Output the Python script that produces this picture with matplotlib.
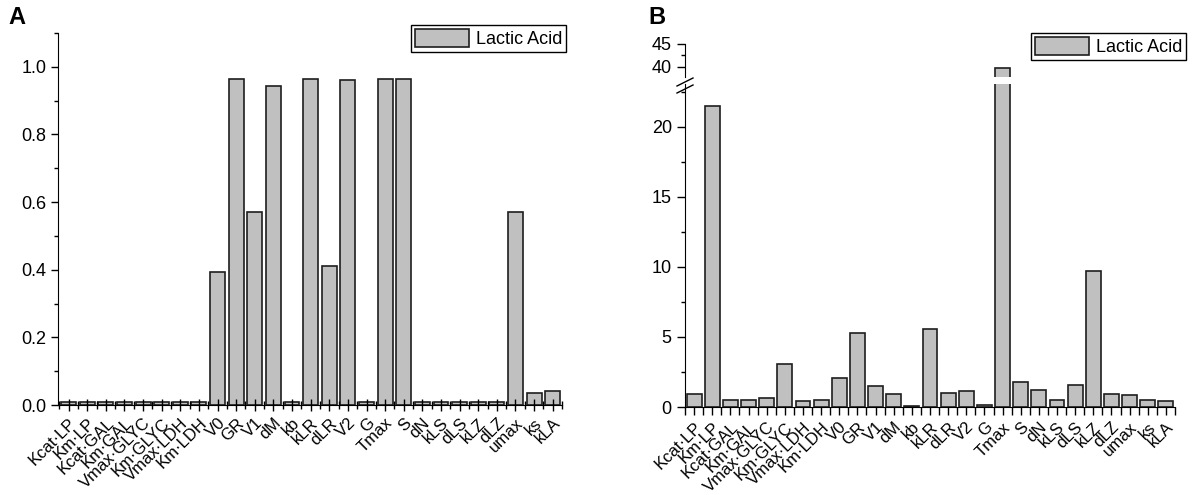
import numpy as np
import matplotlib
matplotlib.use("Agg")
import matplotlib.pyplot as plt
from matplotlib.lines import Line2D
from matplotlib.ticker import MultipleLocator

plt.rcParams['font.family'] = ['Liberation Sans', 'DejaVu Sans']

params = ["Kcat·LP", "Km·LP", "Kcat·GAL", "Km·GAL", "Vmax·GLYC", "Km·GLYC",
          "Vmax·LDH", "Km·LDH", "V0", "GR", "V1", "dM", "kb", "kLR", "dLR",
          "V2", "G", "Tmax", "S", "dN", "kLS", "dLS", "kLZ", "dLZ", "umax",
          "ks", "kLA"]

# panel A - sensitivity index (Lactic Acid)
vals_a = [0.008, 0.008, 0.008, 0.008, 0.008, 0.008, 0.008, 0.008, 0.392,
          0.965, 0.572, 0.943, 0.008, 0.965, 0.41, 0.96, 0.008, 0.965,
          0.965, 0.008, 0.008, 0.008, 0.008, 0.008, 0.57, 0.036, 0.04]

# panel B
vals_b = [0.95, 21.5, 0.5, 0.5, 0.65, 3.1, 0.45, 0.5, 2.05, 5.25, 1.5, 0.95,
          0.1, 5.55, 1.0, 1.15, 0.15, 39.8, 1.8, 1.2, 0.5, 1.6, 9.7, 0.95,
          0.85, 0.5, 0.45]

bar_color = "#c0c0c0"
edge_color = "#1e1e1e"
x = np.arange(1, len(params) + 1)

W, H = 1200, 495
fig = plt.figure(figsize=(W / 100, H / 100), dpi=100)


def frac(px_left, px_top, px_right, px_bottom):
    return [px_left / W, 1 - px_bottom / H, (px_right - px_left) / W, (px_bottom - px_top) / H]


# ---------------- panel A ----------------
axA = fig.add_axes(frac(58, 33, 562, 405))
axA.bar(x, vals_a, width=0.8, color=bar_color, edgecolor=edge_color, linewidth=1.2,
        label="Lactic Acid")
axA.set_xlim(0.43, 27.5)
axA.set_ylim(0, 1.1)
axA.spines[['top', 'right']].set_visible(False)
axA.yaxis.set_minor_locator(MultipleLocator(0.1))
axA.set_yticks(np.arange(0, 1.01, 0.2))
axA.set_yticklabels([f"{v:.1f}" for v in np.arange(0, 1.01, 0.2)], fontsize=13)
axA.set_xticks(x)
axA.set_xticks(np.arange(0.5, 27.6, 1), minor=True)
axA.set_xticklabels(params, rotation=45, ha='right', rotation_mode='anchor', fontsize=12)
axA.tick_params(axis='x', which='major', direction='inout', length=9, width=1, pad=3)
axA.tick_params(axis='x', which='minor', direction='inout', length=6, width=1)
axA.tick_params(axis='y', which='major', direction='out', length=5, width=1)
axA.tick_params(axis='y', which='minor', direction='out', length=3, width=1)
axA.legend(loc='upper right', bbox_to_anchor=(566 / W, 1 - 25 / H),
           bbox_transform=fig.transFigure, fancybox=False, edgecolor='black',
           framealpha=1, fontsize=13, handlelength=3.0, handleheight=1.2,
           borderpad=0.2, borderaxespad=0, handletextpad=0.4)
fig.text(8 / W, 1 - 18 / H, "A", fontsize=17, fontweight='bold', va='center')

# ---------------- panel B (broken axis) ----------------
axB = fig.add_axes(frac(685, 84, 1175, 407))
axBt = fig.add_axes(frac(685, 44, 1175, 77), sharex=axB)
for ax in (axB, axBt):
    ax.bar(x, vals_b, width=0.82, color=bar_color, edgecolor=edge_color, linewidth=1.2,
           label="Lactic Acid")
    ax.spines[['top', 'right']].set_visible(False)
axB.set_xlim(0.5, 27.5)
axB.set_ylim(0, 23.07)
axBt.set_ylim(37.8, 45)
axBt.spines['bottom'].set_visible(False)
axBt.tick_params(axis='x', which='both', bottom=False, labelbottom=False)

axB.set_yticks([0, 5, 10, 15, 20])
axB.yaxis.set_minor_locator(MultipleLocator(2.5))
axBt.set_yticks([40, 45])
axBt.yaxis.set_minor_locator(MultipleLocator(2.5))
for ax in (axB, axBt):
    ax.tick_params(axis='y', which='major', direction='out', length=6, width=1, labelsize=13)
    ax.tick_params(axis='y', which='minor', direction='out', length=3, width=1)
axB.set_xticks(x)
axB.set_xticks(np.arange(0.5, 27.6, 1), minor=True)
axB.set_xticklabels(params, rotation=45, ha='right', rotation_mode='anchor', fontsize=12)
axB.tick_params(axis='x', which='major', direction='out', length=6, width=1, pad=3)
axB.tick_params(axis='x', which='minor', direction='out', length=6, width=1)

axBt.legend(loc='upper right', bbox_to_anchor=(1186 / W, 1 - 33 / H),
            bbox_transform=fig.transFigure, fancybox=False, edgecolor='black',
            framealpha=1, fontsize=13, handlelength=3.0, handleheight=1.2,
            borderpad=0.2, borderaxespad=0, handletextpad=0.4)
fig.text(648 / W, 1 - 18 / H, "B", fontsize=17, fontweight='bold', va='center')

# break marks on the y axis
for dy in (0, 7):
    fig.add_artist(Line2D([677 / W, 693 / W], [1 - (86 + dy) / H, 1 - (78 + dy) / H],
                          transform=fig.transFigure, color='black', linewidth=1))

fig.savefig("out.png", dpi=100)
